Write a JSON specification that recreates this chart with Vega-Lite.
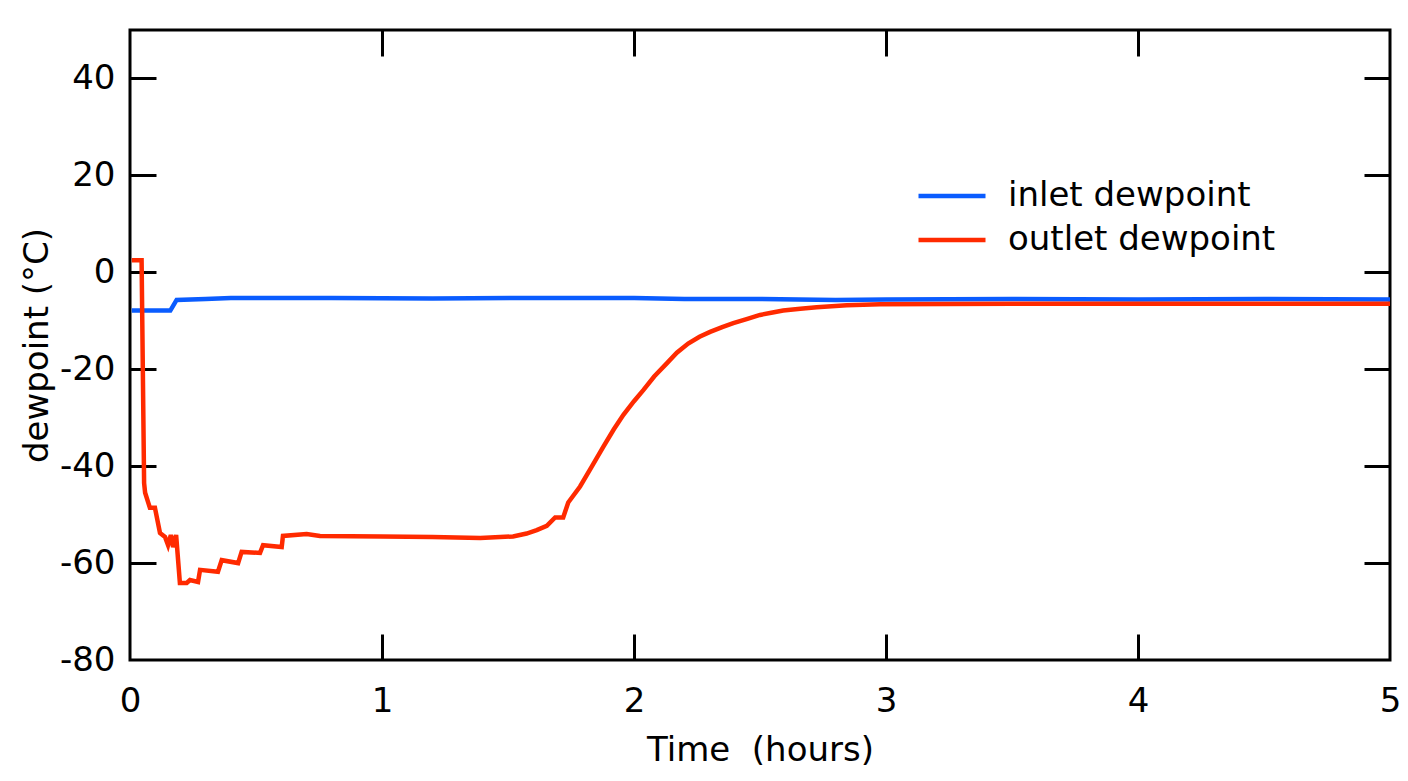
{
  "$schema": "https://vega.github.io/schema/vega-lite/v6.json",
  "width": 1260,
  "height": 630,
  "autosize": {"type": "none"},
  "padding": {"left": 130, "top": 30, "right": 18, "bottom": 121},
  "background": "white",
  "config": {
    "view": {"stroke": "black", "strokeWidth": 3},
    "font": "DejaVu Sans",
    "axis": {"grid": false, "domain": false, "labelFont": "DejaVu Sans", "titleFont": "DejaVu Sans", "labelColor": "black", "titleColor": "black", "tickColor": "black", "tickWidth": 3, "titleFontWeight": "normal"}
  },
  "data": {"values": [
    {"t": 0.007, "v": -7.9, "s": "inlet dewpoint"},
    {"t": 0.16, "v": -7.9, "s": "inlet dewpoint"},
    {"t": 0.185, "v": -5.7, "s": "inlet dewpoint"},
    {"t": 0.3, "v": -5.5, "s": "inlet dewpoint"},
    {"t": 0.4, "v": -5.3, "s": "inlet dewpoint"},
    {"t": 0.8, "v": -5.3, "s": "inlet dewpoint"},
    {"t": 1.2, "v": -5.4, "s": "inlet dewpoint"},
    {"t": 1.6, "v": -5.3, "s": "inlet dewpoint"},
    {"t": 2.0, "v": -5.3, "s": "inlet dewpoint"},
    {"t": 2.2, "v": -5.5, "s": "inlet dewpoint"},
    {"t": 2.5, "v": -5.5, "s": "inlet dewpoint"},
    {"t": 2.8, "v": -5.7, "s": "inlet dewpoint"},
    {"t": 3.0, "v": -5.6, "s": "inlet dewpoint"},
    {"t": 3.5, "v": -5.5, "s": "inlet dewpoint"},
    {"t": 4.0, "v": -5.6, "s": "inlet dewpoint"},
    {"t": 4.5, "v": -5.5, "s": "inlet dewpoint"},
    {"t": 5.0, "v": -5.6, "s": "inlet dewpoint"},
    {"t": 0.007, "v": 2.5, "s": "outlet dewpoint"},
    {"t": 0.046, "v": 2.5, "s": "outlet dewpoint"},
    {"t": 0.056, "v": -43.5, "s": "outlet dewpoint"},
    {"t": 0.06, "v": -45.5, "s": "outlet dewpoint"},
    {"t": 0.079, "v": -48.6, "s": "outlet dewpoint"},
    {"t": 0.099, "v": -48.6, "s": "outlet dewpoint"},
    {"t": 0.119, "v": -53.8, "s": "outlet dewpoint"},
    {"t": 0.139, "v": -54.6, "s": "outlet dewpoint"},
    {"t": 0.151, "v": -56.3, "s": "outlet dewpoint"},
    {"t": 0.162, "v": -54.2, "s": "outlet dewpoint"},
    {"t": 0.171, "v": -56.7, "s": "outlet dewpoint"},
    {"t": 0.183, "v": -54.2, "s": "outlet dewpoint"},
    {"t": 0.198, "v": -64.1, "s": "outlet dewpoint"},
    {"t": 0.225, "v": -64.1, "s": "outlet dewpoint"},
    {"t": 0.238, "v": -63.5, "s": "outlet dewpoint"},
    {"t": 0.27, "v": -63.9, "s": "outlet dewpoint"},
    {"t": 0.278, "v": -61.4, "s": "outlet dewpoint"},
    {"t": 0.349, "v": -61.8, "s": "outlet dewpoint"},
    {"t": 0.364, "v": -59.4, "s": "outlet dewpoint"},
    {"t": 0.429, "v": -60.0, "s": "outlet dewpoint"},
    {"t": 0.443, "v": -57.7, "s": "outlet dewpoint"},
    {"t": 0.516, "v": -57.9, "s": "outlet dewpoint"},
    {"t": 0.528, "v": -56.3, "s": "outlet dewpoint"},
    {"t": 0.602, "v": -56.7, "s": "outlet dewpoint"},
    {"t": 0.607, "v": -54.4, "s": "outlet dewpoint"},
    {"t": 0.701, "v": -54.0, "s": "outlet dewpoint"},
    {"t": 0.754, "v": -54.4, "s": "outlet dewpoint"},
    {"t": 1.0, "v": -54.5, "s": "outlet dewpoint"},
    {"t": 1.2, "v": -54.6, "s": "outlet dewpoint"},
    {"t": 1.39, "v": -54.8, "s": "outlet dewpoint"},
    {"t": 1.52, "v": -54.5, "s": "outlet dewpoint"},
    {"t": 1.574, "v": -53.9, "s": "outlet dewpoint"},
    {"t": 1.614, "v": -53.2, "s": "outlet dewpoint"},
    {"t": 1.654, "v": -52.3, "s": "outlet dewpoint"},
    {"t": 1.687, "v": -50.6, "s": "outlet dewpoint"},
    {"t": 1.719, "v": -50.6, "s": "outlet dewpoint"},
    {"t": 1.739, "v": -47.5, "s": "outlet dewpoint"},
    {"t": 1.786, "v": -44.2, "s": "outlet dewpoint"},
    {"t": 1.83, "v": -40.3, "s": "outlet dewpoint"},
    {"t": 1.878, "v": -36.0, "s": "outlet dewpoint"},
    {"t": 1.92, "v": -32.4, "s": "outlet dewpoint"},
    {"t": 1.958, "v": -29.4, "s": "outlet dewpoint"},
    {"t": 2.0, "v": -26.6, "s": "outlet dewpoint"},
    {"t": 2.037, "v": -24.3, "s": "outlet dewpoint"},
    {"t": 2.08, "v": -21.5, "s": "outlet dewpoint"},
    {"t": 2.13, "v": -18.8, "s": "outlet dewpoint"},
    {"t": 2.17, "v": -16.6, "s": "outlet dewpoint"},
    {"t": 2.215, "v": -14.7, "s": "outlet dewpoint"},
    {"t": 2.26, "v": -13.3, "s": "outlet dewpoint"},
    {"t": 2.302, "v": -12.3, "s": "outlet dewpoint"},
    {"t": 2.35, "v": -11.3, "s": "outlet dewpoint"},
    {"t": 2.394, "v": -10.5, "s": "outlet dewpoint"},
    {"t": 2.45, "v": -9.6, "s": "outlet dewpoint"},
    {"t": 2.5, "v": -8.8, "s": "outlet dewpoint"},
    {"t": 2.55, "v": -8.3, "s": "outlet dewpoint"},
    {"t": 2.592, "v": -7.9, "s": "outlet dewpoint"},
    {"t": 2.66, "v": -7.5, "s": "outlet dewpoint"},
    {"t": 2.725, "v": -7.2, "s": "outlet dewpoint"},
    {"t": 2.844, "v": -6.8, "s": "outlet dewpoint"},
    {"t": 2.976, "v": -6.6, "s": "outlet dewpoint"},
    {"t": 3.5, "v": -6.5, "s": "outlet dewpoint"},
    {"t": 4.0, "v": -6.5, "s": "outlet dewpoint"},
    {"t": 5.0, "v": -6.5, "s": "outlet dewpoint"}
  ]},
  "layer": [
    {
      "mark": {"type": "line", "strokeWidth": 4.5, "clip": true},
      "encoding": {
        "x": {"field": "t", "type": "quantitative", "scale": {"domain": [0, 5], "nice": false, "zero": false},
          "axis": {"orient": "bottom", "values": [0, 1, 2, 3, 4, 5], "tickSize": -26, "tickOpacity": {"condition": {"test": "datum.value == 0 || datum.value == 5", "value": 0}, "value": 1}, "labelPadding": 50, "labelFontSize": 34, "labelFlush": false, "labelExpr": "toString(datum.value)", "title": "Time\u00a0 (hours)", "titleFontSize": 34, "titleY": 90, "titleBaseline": "middle"}},
        "y": {"field": "v", "type": "quantitative", "scale": {"domain": [-80, 50], "nice": false, "zero": false},
          "axis": {"orient": "left", "values": [-80, -60, -40, -20, 0, 20, 40], "tickSize": -26, "tickOpacity": {"condition": {"test": "datum.value == -80", "value": 0}, "value": 1}, "labelPadding": 41, "labelFontSize": 34, "labelExpr": "toString(datum.value)", "title": "dewpoint (°C)", "titleFontSize": 34, "titleX": -93, "titleBaseline": "middle"}},
        "color": {"field": "s", "type": "nominal", "scale": {"domain": ["inlet dewpoint", "outlet dewpoint"], "range": ["#0a5cff", "#ff2a00"]},
          "legend": {"orient": "none", "legendX": 786, "legendY": 144, "title": null, "symbolType": "stroke", "symbolSize": 4489, "symbolStrokeWidth": 4.5, "labelFontSize": 34, "labelFont": "DejaVu Sans", "labelColor": "black", "labelOffset": 20, "rowPadding": 0, "clipHeight": 44, "labelLimit": 400}},
        "order": {"field": "t", "type": "quantitative"}
      }
    },
    {
      "mark": {"type": "line", "opacity": 0},
      "encoding": {
        "x": {"field": "t", "type": "quantitative", "axis": {"orient": "top", "values": [1, 2, 3, 4], "tickSize": -26, "labels": false, "title": null}},
        "y": {"field": "v", "type": "quantitative", "axis": {"orient": "right", "values": [-60, -40, -20, 0, 20, 40], "tickSize": -26, "labels": false, "title": null}},
        "detail": {"field": "s"}
      }
    }
  ],
  "resolve": {"axis": {"x": "independent", "y": "independent"}}
}
